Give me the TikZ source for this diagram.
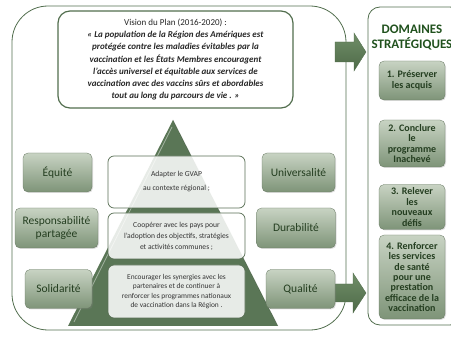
\documentclass[tikz,border=0pt]{standalone}
\usepackage{fontspec}
\setmainfont{Carlito}
\usetikzlibrary{shadows}
\definecolor{fr}{RGB}{82,110,78}
\definecolor{gtop}{RGB}{200,211,195}
\definecolor{gbot}{RGB}{126,148,120}
\definecolor{gtxt}{RGB}{36,62,32}
\definecolor{pyr}{RGB}{90,118,86}
\definecolor{ibord}{RGB}{88,110,84}
\definecolor{atop}{RGB}{112,142,104}
\definecolor{abot}{RGB}{78,106,72}
\tikzset{
  gbox/.style={rounded corners=5pt, top color=gtop, bottom color=gbot, draw=gbot!80!black,
    line width=0.3pt, text=gtxt, align=center, inner sep=1pt,
    drop shadow={opacity=0.25, shadow xshift=1pt, shadow yshift=-1pt}},
  sidebox/.style={gbox, font=\fontsize{11.5}{13}\selectfont},
  dombox/.style={gbox, font=\bfseries\fontsize{10}{10.4}\selectfont, minimum width=66pt},
  pbox/.style={rounded corners=6pt, draw=ibord, line width=0.7pt, fill=white, fill opacity=0.86,
    text opacity=1, text=black!80, align=center, minimum width=137pt},
  blockarrow/.style={top color=atop, bottom color=abot, draw=abot, line width=0.3pt}
}
\begin{document}
\begin{tikzpicture}[x=1pt,y=-1pt]
\useasboundingbox (0,0) rectangle (451,337);
\clip (0,0) rectangle (451,337);
% outer frame
\draw[fr, line width=0.8pt, rounded corners=36pt] (12,6) rectangle (346,330);
% right panel
\draw[fr, line width=0.8pt, rounded corners=12pt] (368,7) rectangle (462,325);
% block arrows
\draw[blockarrow] (335,42) -- (354,42) -- (354,33) -- (366,52) -- (354,71) -- (354,62) -- (335,62) -- cycle;
\draw[blockarrow] (335,284) -- (353,284) -- (353,273) -- (366,293) -- (353,313) -- (353,302) -- (335,302) -- cycle;
% vision box
\node[draw=fr, line width=1.2pt, rounded corners=12pt, fill=white, minimum width=235pt, minimum height=97pt,
  align=center, text=black!85, font=\fontsize{9}{12.3}\selectfont] (vision) at (175.5,59.5)
  {Vision du Plan (2016-2020) :\\
  \textbf{\textit{« La population de la Région des Amériques est}}\\
  \textbf{\textit{protégée contre les maladies évitables par la}}\\
  \textbf{\textit{vaccination et les États Membres encouragent}}\\
  \textbf{\textit{l'accès universel et équitable aux services de}}\\
  \textbf{\textit{vaccination avec des vaccins sûrs et abordables}}\\
  \textbf{\textit{tout au long du parcours de vie . »}}};
% pyramid
\fill[pyr] (173,120) -- (278,326) -- (68,326) -- cycle;
\draw[white, opacity=0.45, line width=0.8pt] (172,127) -- (74,322);
\draw[black, opacity=0.15, line width=0.6pt] (173,120) -- (278,326);
% pyramid boxes
\node[pbox, minimum height=52pt, font=\fontsize{7.6}{14}\selectfont] (p1) at (176.5,182)
  {Adapter le GVAP\\au contexte régional ;};
\node[pbox, minimum height=46pt, font=\fontsize{7.6}{11}\selectfont] (p2) at (176.5,236)
  {Coopérer avec les pays pour\\l'adoption des objectifs, stratégies\\et activités communes ;};
\node[pbox, minimum height=53pt, font=\fontsize{7.4}{9.4}\selectfont] (p3) at (176.5,291.5)
  {Encourager les synergies avec les\\partenaires et de continuer à\\renforcer les programmes nationaux\\de vaccination dans la Région .};
% side boxes
\node[sidebox, minimum width=69pt, minimum height=39pt] (eq) at (57.5,172.5) {Équité};
\node[sidebox, minimum width=83pt, minimum height=40pt] (resp) at (56.5,228) {Responsabilité\\partagée};
\node[sidebox, minimum width=67pt, minimum height=39pt] (sol) at (58.5,289) {Solidarité};
\node[sidebox, minimum width=73pt, minimum height=39pt] (uni) at (298.5,172.5) {Universalité};
\node[sidebox, minimum width=79pt, minimum height=40pt] (dur) at (296,228) {Durabilité};
\node[sidebox, minimum width=69pt, minimum height=39pt] (qua) at (300.5,289) {Qualité};
% domains
\node[text=gtxt!90!green, font=\bfseries\fontsize{13}{15}\selectfont, align=center] (dom) at (412,38)
  {DOMAINES\\STRATÉGIQUES};
\node[dombox, minimum height=39pt] (d1) at (412,80.5) {1. Préserver\\les acquis};
\node[dombox, minimum height=47pt] (d2) at (412,143.5) {2. Conclure\\le\\programme\\Inachevé};
\node[dombox, minimum height=45pt] (d3) at (412,207) {3. Relever\\les\\nouveaux\\défis};
\node[dombox, minimum height=84pt] (d4) at (412,277) {4. Renforcer\\les services\\de santé\\pour une\\prestation\\efficace de la\\vaccination};
\end{tikzpicture}
\end{document}
